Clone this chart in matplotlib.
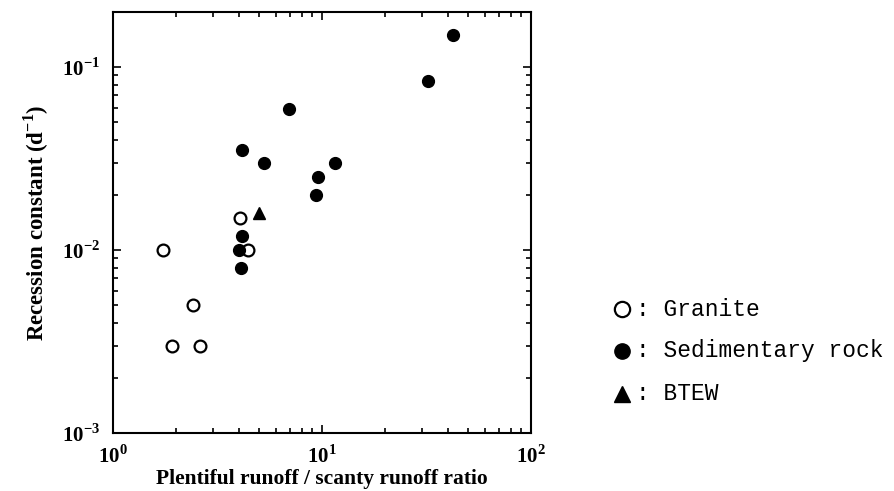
import matplotlib.pyplot as plt
from matplotlib.lines import Line2D

plt.rcParams['font.family'] = 'Liberation Serif'
plt.rcParams['mathtext.fontset'] = 'custom'
plt.rcParams['mathtext.rm'] = 'Liberation Serif:bold'
plt.rcParams['mathtext.bf'] = 'Liberation Serif:bold'

# data
granite_x = [1.74, 1.92, 2.61, 2.42, 4.05, 4.44]
granite_y = [0.010, 0.003, 0.003, 0.005, 0.015, 0.010]

sed_x = [42.2, 32.3, 6.95, 4.13, 5.3, 11.5, 9.57, 9.33, 4.16, 4.01, 4.1]
sed_y = [0.15, 0.084, 0.059, 0.035, 0.030, 0.030, 0.025, 0.020, 0.012, 0.010, 0.008]

btew_x = [5.0]
btew_y = [0.016]

legend_labels = [": Granite", ": Sedimentary rock", ": BTEW"]

fig = plt.figure(figsize=(8.95, 4.91), dpi=100)
ax = fig.add_axes([113 / 895, 1 - 433 / 491, 418 / 895, 421 / 491])

ax.plot(granite_x, granite_y, 'o', ms=8.5, mfc='white', mec='black', mew=1.6)
ax.plot(sed_x, sed_y, 'o', ms=8.5, mfc='black', mec='black')
ax.plot(btew_x, btew_y, '^', ms=8.5, mfc='black', mec='black')

ax.set_xscale('log')
ax.set_yscale('log')
ax.set_xlim(1, 100)
ax.set_ylim(1e-3, 0.2)
ax.set_xticks([1, 10, 100])
ax.set_xticklabels([r'$10^{0}$', r'$10^{1}$', r'$10^{2}$'])
ax.set_yticks([1e-3, 1e-2, 1e-1])
ax.set_yticklabels([r'$10^{-3}$', r'$10^{-2}$', r'$10^{-1}$'])

ax.tick_params(which='both', direction='in', top=True, right=True,
               labelsize=15, width=1.2)
ax.tick_params(which='major', length=6)
ax.tick_params(which='minor', length=3.5)
ax.tick_params(axis='x', which='major', pad=9)
ax.tick_params(axis='y', which='major', pad=9)
for s in ax.spines.values():
    s.set_linewidth(1.5)

ax.set_xlabel('Plentiful runoff / scanty runoff ratio', fontsize=15.5,
              fontweight='bold', labelpad=1)
ax.set_ylabel('Recession constant (d$^{-1}$)', fontsize=16.5,
              fontweight='bold', labelpad=8)

# legend drawn by hand, beside the axes
rows_y = [1 - 309 / 491, 1 - 351 / 491, 1 - 394 / 491]
styles = [dict(marker='o', mfc='white', mec='black', mew=1.6),
          dict(marker='o', mfc='black', mec='black'),
          dict(marker='^', mfc='black', mec='black')]
for yy, lab, st in zip(rows_y, legend_labels, styles):
    fig.add_artist(Line2D([622 / 895], [yy], ms=11, ls='none',
                          transform=fig.transFigure, **st))
    fig.text(636 / 895, yy, lab, fontsize=16.5, family='Liberation Mono',
             va='center', ha='left')

fig.savefig('out.png', dpi=100)
